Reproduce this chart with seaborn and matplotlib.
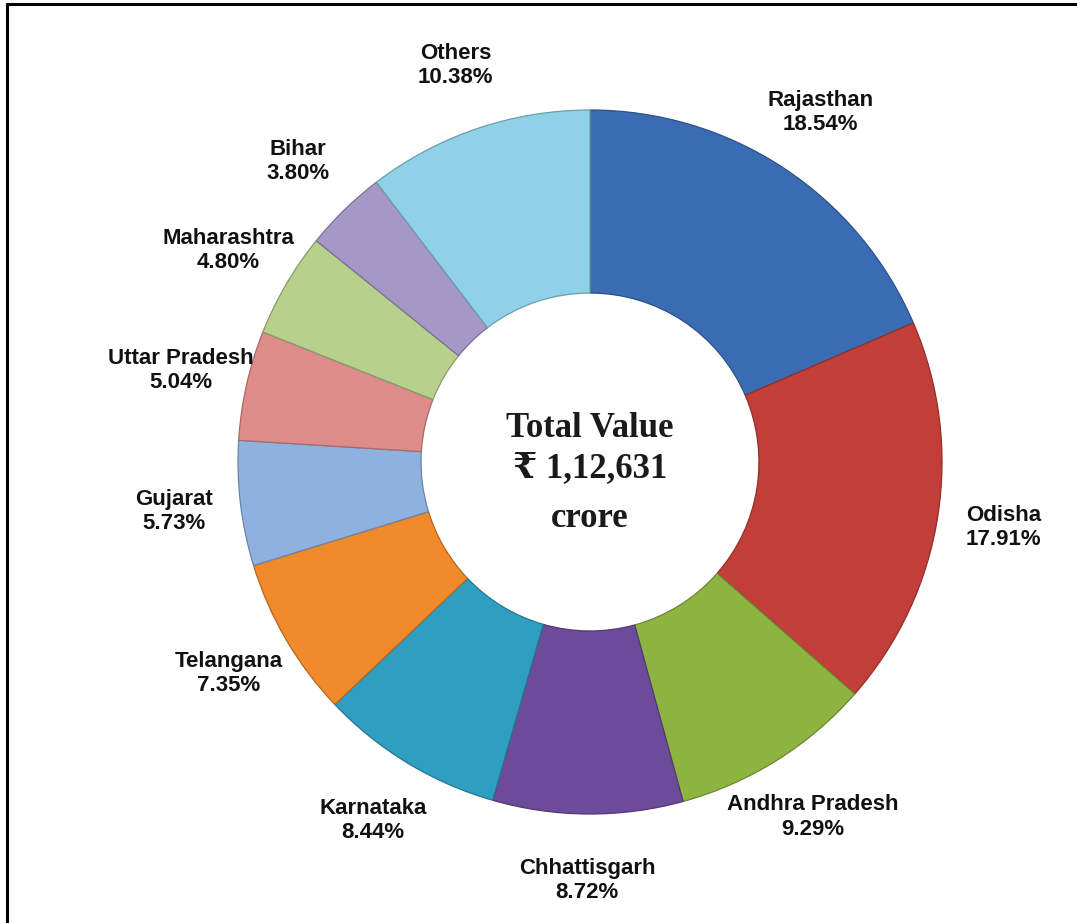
import matplotlib
matplotlib.use("Agg")
import matplotlib.pyplot as plt
from matplotlib.lines import Line2D
from matplotlib.colors import to_rgb
import seaborn as sns

# shares of total value, clockwise from 12 o'clock
states = ["Rajasthan", "Odisha", "Andhra Pradesh", "Chhattisgarh", "Karnataka",
          "Telangana", "Gujarat", "Uttar Pradesh", "Maharashtra", "Bihar", "Others"]
shares = [18.54, 17.91, 9.29, 8.72, 8.44, 7.35, 5.73, 5.04, 4.80, 3.80, 10.38]
colors = ["#3A6CB4", "#C23E38", "#8DB441", "#6C4C9A", "#2F9EC0", "#F08A2A",
          "#8FB1E0", "#DE8C8A", "#B7D08C", "#A597C6", "#8FD1E6"]
center_lines = ["Total Value", "\u20b9 1,12,631", "crore"]

sns.set_theme(style="white")
plt.rcParams["font.family"] = ["Liberation Sans", "DejaVu Sans"]

W, H = 1077, 923
fig = plt.figure(figsize=(W / 100, H / 100), dpi=100)
ax = fig.add_axes([0, 0, 1, 1])

# pixel geometry of the ring
cx, cy, R = 590, 462, 352

edge = [tuple(c * 0.75 for c in to_rgb(col)) for col in colors]
labels = [f"{s}\n{v:.2f}%" for s, v in zip(states, shares)]
wedges, texts = ax.pie(shares, colors=colors, startangle=90, counterclock=False,
                       radius=1, labels=labels, labeldistance=1.19,
                       wedgeprops=dict(width=0.52, linewidth=0.9),
                       textprops=dict(fontsize=16, fontweight="bold", color="#111111"))
ax.set_aspect("auto")
ax.set_xlim(-cx / R, (W - cx) / R)
ax.set_ylim((cy - H) / R, cy / R)
ax.set_axis_off()
for w, e in zip(wedges, edge):
    w.set_edgecolor(e)
for t in texts:
    t.set_ha("center")
    t.set_va("center")
    t.set_multialignment("center")
    t.set_linespacing(1.2)

serif = ["Liberation Serif", "DejaVu Serif", "DejaVu Sans"]
for line, dy in zip(center_lines, [0.095, -0.018, -0.16]):
    ax.text(0, dy, line, ha="center", va="center", fontsize=25,
            fontweight="bold", family=serif, color="#1a1a1a")

# frame lines on top and left only
fig.add_artist(Line2D([7 / W, 1], [1 - 4 / H, 1 - 4 / H], color="black", lw=2.2,
                      transform=fig.transFigure))
fig.add_artist(Line2D([7 / W, 7 / W], [0, 1 - 4 / H], color="black", lw=2.2,
                      transform=fig.transFigure))

fig.savefig("out.png", dpi=100, facecolor="white")
